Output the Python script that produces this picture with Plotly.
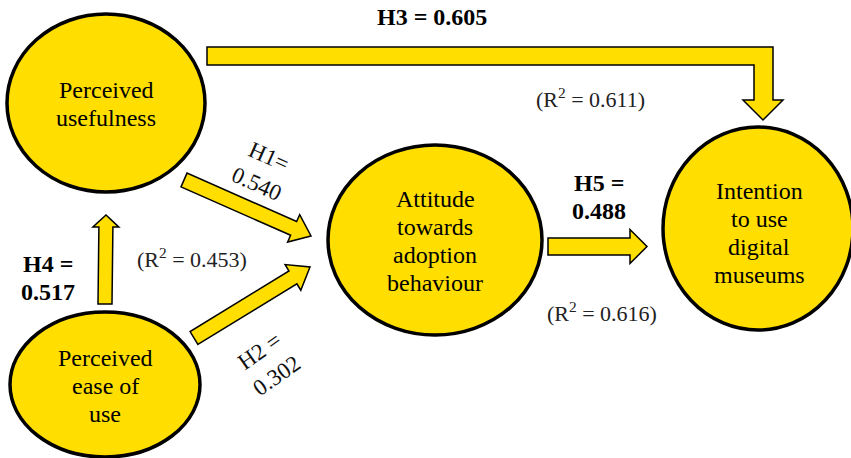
import math
import plotly.graph_objects as go

# ---- data ----
node_labels = ["Perceived<br>usefulness", "Perceived<br>ease of<br>use",
               "Attitude<br>towards<br>adoption<br>behaviour",
               "Intention<br>to use<br>digital<br>museums"]
hyp_names = ["H1", "H2", "H3", "H4", "H5"]
hyp_coefs = [0.540, 0.302, 0.605, 0.517, 0.488]
r2_values = [0.453, 0.611, 0.616]

# ---- layout geometry (pixel space) ----
W, H = 851, 458
FILL = "#FFDE00"
FONT = "Liberation Serif, Times New Roman, serif"
LINE_GAP = 28

node_boxes = [(7, 14, 205, 192), (10, 312, 200, 457), (328, 145, 542, 335), (663, 127, 853, 330)]
node_text_pos = [(106, 104), (105, 386), (435, 241), (759, 233)]

fig = go.Figure()
shapes = []
for (x0, y0, x1, y1) in node_boxes:
    shapes.append(dict(type="circle", xref="x", yref="y", x0=x0, y0=y0, x1=x1, y1=y1,
                       fillcolor=FILL, line=dict(color="black", width=3.5), layer="above"))


def arrow_path(tail, tip, w, hw, hl):
    dx, dy = tip[0] - tail[0], tip[1] - tail[1]
    L = math.hypot(dx, dy)
    ux, uy = dx / L, dy / L
    nx, ny = -uy, ux
    bx, by = tip[0] - ux * hl, tip[1] - uy * hl
    pts = [
        (tail[0] + nx * w / 2, tail[1] + ny * w / 2),
        (bx + nx * w / 2, by + ny * w / 2),
        (bx + nx * hw / 2, by + ny * hw / 2),
        tip,
        (bx - nx * hw / 2, by - ny * hw / 2),
        (bx - nx * w / 2, by - ny * w / 2),
        (tail[0] - nx * w / 2, tail[1] - ny * w / 2),
    ]
    return "M " + " L ".join(f"{x:.1f},{y:.1f}" for x, y in pts) + " Z"


arrows = [
    ((184, 180), (311, 236), 15, 30, 19),   # H1
    ((194, 338), (310, 267), 15, 30, 20),   # H2
    ((105, 304), (106, 215), 14, 26, 12),   # H4
    ((548, 246.5), (647, 246.5), 17, 34, 17),  # H5
]
for tail, tip, w, hw, hl in arrows:
    shapes.append(dict(type="path", path=arrow_path(tail, tip, w, hw, hl), xref="x", yref="y",
                       fillcolor=FILL, line=dict(color="black", width=1.5), layer="above"))

# H3 elbow arrow
h3_pts = [(207, 47), (773, 47), (773, 100), (783, 100), (763, 120), (743, 100), (754, 100), (754, 65), (207, 65)]
shapes.append(dict(type="path", path="M " + " L ".join(f"{x},{y}" for x, y in h3_pts) + " Z",
                   xref="x", yref="y", fillcolor=FILL, line=dict(color="black", width=1.5), layer="above"))

ann = []


def stacked(lines, cx, cy, font):
    n = len(lines)
    for i, t in enumerate(lines):
        ann.append(dict(x=cx, y=cy + (i - (n - 1) / 2) * LINE_GAP, text=t, showarrow=False,
                        xref="x", yref="y", font=font, align="center"))


node_font = dict(family=FONT, size=24, color="black")
for lab, (x, y) in zip(node_labels, node_text_pos):
    stacked(lab.split("<br>"), x, y, node_font)

coef = dict(zip(hyp_names, hyp_coefs))
bold = dict(family=FONT, size=24, color="black")
stacked([f"<b>H3 = {coef['H3']:.3f}</b>"], 432, 17, bold)
stacked(["<b>H4 =</b>", f"<b>{coef['H4']:.3f}</b>"], 48, 278, bold)
stacked(["<b>H5 =</b>", f"<b>{coef['H5']:.3f}</b>"], 599, 197, bold)

reg = dict(family=FONT, size=23, color="#111")
r2f = dict(family=FONT, size=22, color="#222")
extra = [
    dict(x=263, y=170, text=f"H1=<br>{coef['H1']:.3f}", font=reg, textangle=24),
    dict(x=268, y=363, text=f"H2 =<br>{coef['H2']:.3f}", font=reg, textangle=-35),
    dict(x=192, y=258, text=f"(R<sup>2</sup> = {r2_values[0]:.3f})", font=r2f),
    dict(x=590, y=98, text=f"(R<sup>2</sup> = {r2_values[1]:.3f})", font=r2f),
    dict(x=602, y=312, text=f"(R<sup>2</sup> = {r2_values[2]:.3f})", font=r2f),
]
for a in extra:
    a.update(showarrow=False, xref="x", yref="y", align="center")
ann += extra

fig.update_layout(
    width=W, height=H, margin=dict(l=0, r=0, t=0, b=0),
    paper_bgcolor="white", plot_bgcolor="white",
    xaxis=dict(range=[0, W], visible=False, fixedrange=True),
    yaxis=dict(range=[H, 0], visible=False, fixedrange=True),
    shapes=shapes, annotations=ann, showlegend=False,
)
fig.write_html("out.html", config={"displayModeBar": False},
               post_script="document.body.style.margin='0px';")
